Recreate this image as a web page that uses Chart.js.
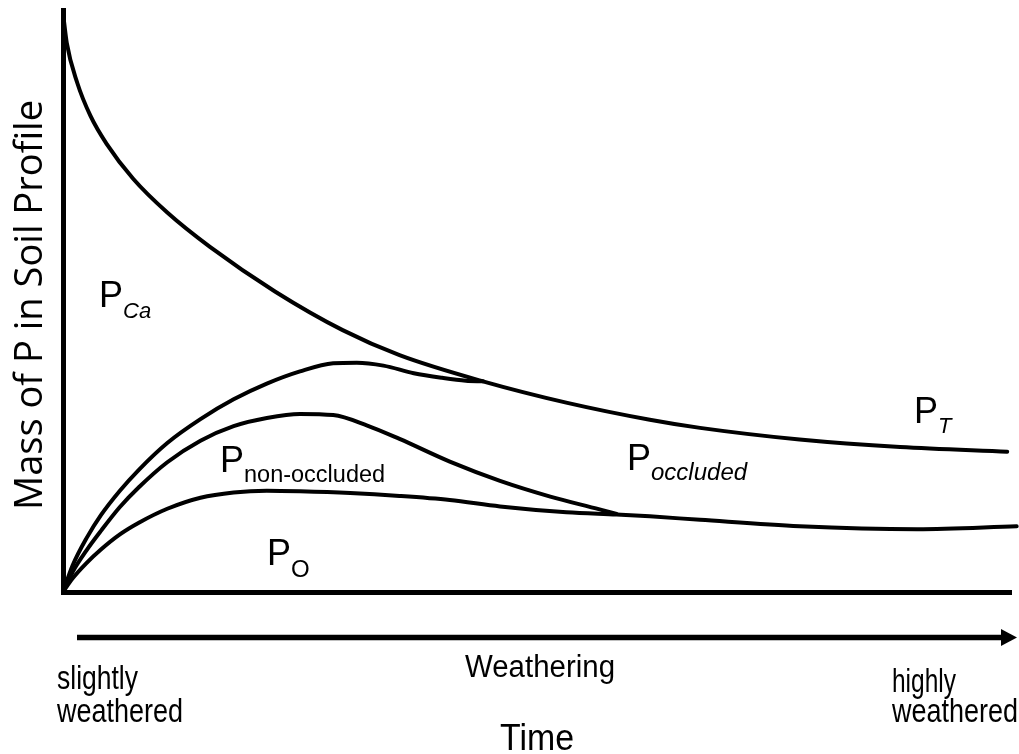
<!DOCTYPE html>
<html>
<head>
<meta charset="utf-8">
<script src="https://cdn.jsdelivr.net/npm/chart.js@4.4.1/dist/chart.umd.min.js"></script>
<style>
  html, body { margin: 0; padding: 0; background: #fff; }
  canvas { display: block; }
</style>
</head>
<body>
<canvas id="pools" width="1019" height="754"></canvas>
<script>
// Soil P pools over time.
// x = relative time (0-100), y = relative mass of P (0-100)

// total P (upper boundary)
const totalX = [0, 0.4, 1.5, 2.9, 4.6, 7.4, 11.0, 15.5, 22.4, 29.5, 35.5, 44.3, 53.2, 61.9, 67.2, 77.7, 88.3, 99.6];
const totalY = [99.5, 94.3, 87.5, 81.8, 77.0, 71.0, 65.2, 59.3, 51.6, 45.0, 40.7, 36.2, 32.5, 29.6, 28.2, 26.2, 24.9, 24.1];

// top of the non-occluded pool (bottom of P-Ca)
const nonOccTopX = [0, 1, 2.5, 4, 6, 8, 11, 14.5, 18, 21.5, 25, 28.5, 31, 33.8, 37, 40, 42.5, 44.3];
const nonOccTopY = [0, 4.5, 9.3, 13.2, 17.4, 21.0, 25.6, 29.7, 33.1, 35.8, 37.9, 39.3, 39.4, 38.9, 37.6, 36.8, 36.3, 36.2];

// boundary non-occluded / occluded
const occTopX = [0, 1, 2.5, 4, 6, 8, 11, 14.5, 18, 21.5, 25, 28.5, 32.1, 35.5, 40.8, 46.1, 51.4, 56.6, 58.4];
const occTopY = [0, 3.4, 7.2, 10.5, 14.6, 18.0, 22.3, 26.0, 28.5, 29.9, 30.6, 30.4, 28.6, 26.3, 22.4, 19.1, 16.4, 14.2, 13.4];

// top of organic P
const organicX = [0, 1, 2.5, 4, 6, 8, 11, 14.5, 18, 21.5, 25, 30.3, 35.5, 40.8, 46.1, 53.1, 58.4, 61.9, 67.2, 77.7, 90.1, 100.6];
const organicY = [0, 2.3, 5.0, 7.3, 9.9, 11.9, 14.3, 16.2, 17.1, 17.4, 17.3, 17.0, 16.5, 15.8, 14.7, 13.7, 13.3, 13.0, 12.4, 11.3, 10.8, 11.3];

const FONT = '"Liberation Sans", Arial, sans-serif';

// P labels: main letter + subscript
const poolLabels = [
    { sub: 'Ca', x: 99, y: 307, subSize: 22, italic: true, drop: 11 },
    { sub: 'non-occluded', x: 220, y: 472, subSize: 23.5, italic: false, drop: 10 },
    { sub: 'O', x: 267, y: 565, subSize: 24, italic: false, drop: 12 },
    { sub: 'occluded', x: 627, y: 470, subSize: 24, italic: true, drop: 10 },
    { sub: 'T', x: 914, y: 423, subSize: 22, italic: true, drop: 10 }
];

function toPoints(xs, ys) {
    return xs.map((x, i) => ({ x: x, y: ys[i] }));
}

function curve(xs, ys) {
    return {
        data: toPoints(xs, ys),
        borderColor: '#000',
        borderWidth: 4,
        borderCapStyle: 'round',
        borderJoinStyle: 'round',
        pointRadius: 0,
        showLine: true,
        cubicInterpolationMode: 'monotone',
        clip: false
    };
}

// draws text squeezed/stretched to a given width
function fitText(ctx, text, x, y, font, width, align) {
    ctx.save();
    ctx.font = font;
    const w = ctx.measureText(text).width;
    ctx.translate(x, y);
    ctx.scale(width ? width / w : 1, 1);
    ctx.textAlign = align || 'left';
    ctx.textBaseline = 'alphabetic';
    ctx.fillText(text, 0, 0);
    ctx.restore();
}

const annotations = {
    id: 'annotations',
    afterDraw(chart) {
        const ctx = chart.ctx;
        ctx.save();
        ctx.fillStyle = '#000';

        // pool labels
        poolLabels.forEach((l) => {
            ctx.font = '36px ' + FONT;
            ctx.textAlign = 'left';
            ctx.fillText('P', l.x, l.y);
            const pw = ctx.measureText('P').width;
            ctx.font = (l.italic ? 'italic ' : '') + l.subSize + 'px ' + FONT;
            ctx.fillText(l.sub, l.x + pw, l.y + l.drop);
        });

        // y title
        ctx.save();
        ctx.translate(42, 305);
        ctx.rotate(-Math.PI / 2);
        fitText(ctx, 'Mass of P in Soil Profile', 0, 0, '38px "Open Sans", sans-serif', 410, 'center');
        ctx.restore();

        // weathering arrow
        const ay = 637.5;
        ctx.strokeStyle = '#000';
        ctx.lineWidth = 5.5;
        ctx.beginPath();
        ctx.moveTo(77, ay);
        ctx.lineTo(1004, ay);
        ctx.stroke();
        ctx.beginPath();
        ctx.moveTo(1017, ay);
        ctx.lineTo(1001, ay - 8.5);
        ctx.lineTo(1001, ay + 8.5);
        ctx.closePath();
        ctx.fill();

        fitText(ctx, 'Weathering', 465, 677, '31px ' + FONT, 150);
        fitText(ctx, 'slightly', 57, 689, '34px ' + FONT, 81);
        fitText(ctx, 'weathered', 57, 722, '34px ' + FONT, 126);
        fitText(ctx, 'highly', 892, 692, '34px ' + FONT, 64);
        fitText(ctx, 'weathered', 892, 722, '34px ' + FONT, 126);
        fitText(ctx, 'Time', 537, 750, '37px ' + FONT, 74, 'center');

        ctx.restore();
    }
};

new Chart(document.getElementById('pools'), {
    type: 'scatter',
    data: {
        datasets: [
            curve(totalX, totalY),
            curve(nonOccTopX, nonOccTopY),
            curve(occTopX, occTopY),
            curve(organicX, organicY)
        ]
    },
    options: {
        responsive: false,
        animation: false,
        devicePixelRatio: 1,
        layout: { padding: { left: 63, right: 8, top: 10, bottom: 162 } },
        plugins: {
            legend: { display: false },
            tooltip: { enabled: false }
        },
        scales: {
            x: {
                min: 0,
                max: 100,
                ticks: { display: false },
                grid: { display: false, drawTicks: false },
                border: { display: true, color: '#000', width: 5 }
            },
            y: {
                min: 0,
                max: 100,
                ticks: { display: false },
                grid: { display: false, drawTicks: false },
                border: { display: true, color: '#000', width: 5 }
            }
        }
    },
    plugins: [annotations]
});
</script>
</body>
</html>
